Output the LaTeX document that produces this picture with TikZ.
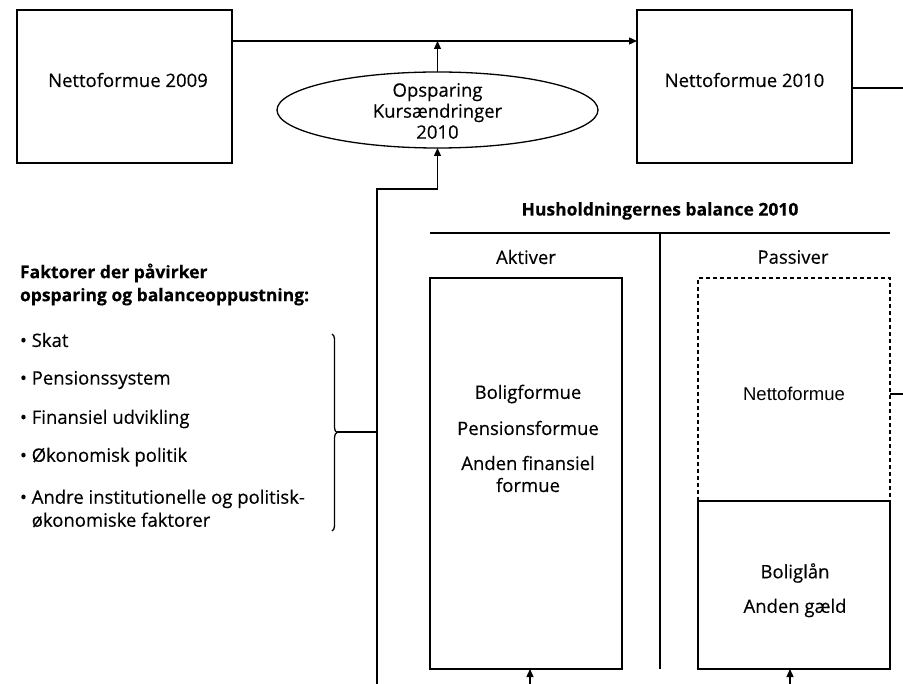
\documentclass[tikz,border=0pt]{standalone}
\usepackage{fontspec}
\setmainfont{Open Sans}[FakeBold=0.35]
\newfontfamily\arialfont{Liberation Sans}
\usetikzlibrary{arrows.meta,shapes.geometric,decorations.pathreplacing,calc}
\begin{document}
\begin{tikzpicture}[x=1pt,y=-1pt,
  every node/.style={inner sep=0pt, outer sep=0pt},
  line/.style={line width=1.3pt},
  arr/.style={line width=1.3pt,-{Triangle[length=8pt,width=7pt]}},
  box/.style={draw, line width=1.3pt, rectangle},
  txt/.style={font=\fontsize{18.5}{21}\selectfont, align=center},
  btxt/.style={font=\fontsize{17.5}{23}\selectfont\bfseries},
]
\useasboundingbox (0,0) rectangle (903,684);
% top boxes
\node[box, minimum width=215pt, minimum height=153pt] (b09) at (124.5,86.5) {};
\node[txt] (t09) at (128,80) {Nettoformue 2009};
\node[box, minimum width=215pt, minimum height=153pt] (b10) at (744.5,86.5) {};
\node[txt] (t10) at (744.5,80) {Nettoformue 2010};
% ellipse
\node[draw, line width=1.3pt, ellipse, minimum width=321pt, minimum height=76pt] (ell) at (437.5,110) {};
\node[txt] (etxt) at (437.5,111) {Opsparing\\Kursændringer\\2010};
% top line
\coordinate (tl) at ($(b09.north east)+(0,31)$);
\draw[arr] (tl) -- (tl -| b10.west);
\draw[arr] (ell.north) -- (ell.north |- tl);
% right exit lines
\coordinate (r1) at ($(b10.east)+(0,1.5)$);
\coordinate (r1e) at (903,88);
\draw[line] (r1) -- (r1 -| r1e);
% left factors
\node[btxt, anchor=west, align=left] (fh) at (20,284.5) {Faktorer der påvirker\\opsparing og balanceoppustning:};
\node[txt, anchor=west] (f1) at (20,340) {• Skat};
\node[txt, anchor=west] (f2) at (20,380) {• Pensionssystem};
\node[txt, anchor=west] (f3) at (20,419) {• Finansiel udvikling};
\node[txt, anchor=west] (f4) at (20,457) {• Økonomisk politik};
\node[txt, anchor=west, align=left, font=\fontsize{18.5}{23}\selectfont] (f5) at (20,508.5) {• Andre institutionelle og politisk-\\\hphantom{• }økonomiske faktorer};
% brace
\coordinate (brt) at (332,334);
\coordinate (brb) at (332,531);
\draw[line, decorate, decoration={brace, amplitude=5pt}] (brt) -- (brb);
\coordinate (brtip) at (337,432);
\coordinate (vb) at (377,684);
\coordinate (vj) at (377,189);
\draw[line] (brtip) -- (brtip -| vb);
\draw[arr] (vb) -- (vj) -| (ell.south);
% balance
\node[btxt] (title) at (660,211) {Husholdningernes balance 2010};
\coordinate (hl1) at (430,233);
\coordinate (hl2) at (890,233);
\draw[line] (hl1) -- (hl2);
\coordinate (dv1) at (660,233);
\coordinate (dv2) at (660,669);
\draw[line] (dv1) -- (dv2);
\node[txt] (akt) at (526,257) {Aktiver};
\node[txt] (pas) at (793,257) {Passiver};
\node[box, minimum width=192pt, minimum height=391pt] (abox) at (526,473.5) {};
\node[txt] (a1) at (528,394) {Boligformue};
\node[txt] (a2) at (528,428) {Pensionsformue};
\node[txt, font=\fontsize{18.5}{22}\selectfont] (a3) at (528,474) {Anden finansiel\\formue};
\node[draw, line width=1.3pt, dash pattern=on 4pt off 3pt, minimum width=192pt, minimum height=223pt] (nbox) at (794,389.5) {};
\node[font=\arialfont\fontsize{18.5}{21}\selectfont] (n1) at (794,394) {Nettoformue};
\node[box, minimum width=192pt, minimum height=168pt] (gbox) at (794,585) {};
\node[txt] (g1) at (795,573) {Boliglån};
\node[txt] (g2) at (795,608) {Anden gæld};
\coordinate (r2) at ($(nbox.east)+(0,4.5)$);
\coordinate (r2e) at (903,394);
\draw[line] (r2) -- (r2 -| r2e);
% bottom arrows
\coordinate (ba1) at (530,684);
\coordinate (ba2) at (790,684);
\draw[arr] (ba1) -- (ba1 |- abox.south);
\draw[arr] (ba2) -- (ba2 |- gbox.south);
\end{tikzpicture}
\end{document}
